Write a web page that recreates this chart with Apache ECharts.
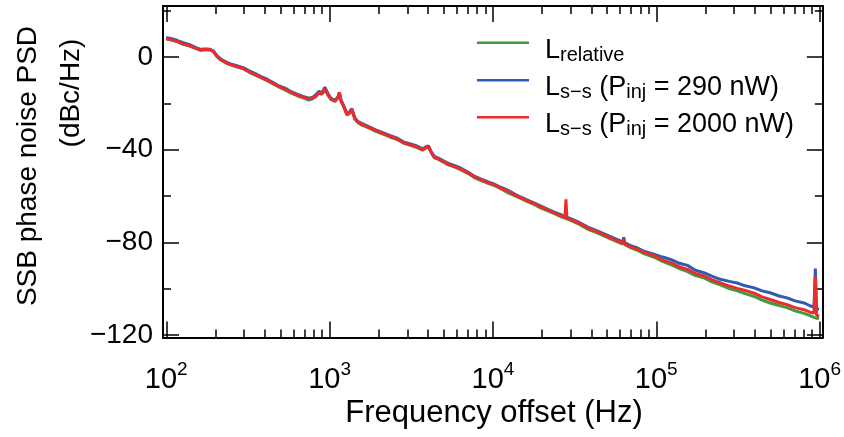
<!DOCTYPE html>
<html>
<head>
<meta charset="utf-8">
<script src="https://cdn.jsdelivr.net/npm/echarts@6/dist/echarts.min.js"></script>
<style>
html,body{margin:0;padding:0;background:#fff;}
#chart{width:844px;height:437px;}
</style>
</head>
<body>
<div id="chart"></div>
<script>
// ---- data (frequency offset in Hz, SSB phase noise in dBc/Hz) ----
const freqHz = [100,108,117,127,139,151,162,174,186,194,
205,217,233,250,272,296,322,351,381,415,
451,491,534,581,632,688,748,791,825,861,
898,936,977,1019,1078,1125,1148,1173,1223,1275,
1312,1369,1427,1488,1574,1737,1916,2114,2333,2573,
2839,3132,3455,3706,3865,4030,4203,4383,4636,4975,
5338,5899,6418,7070,7684,8482,9355,10320,11240,12390,
13670,14880,16410,18100,19690,21720,23960,26080,27600,27990,
28380,30880,34050,38100,42050,46410,51200,56500,62350,63240,
64120,69710,76900,84900,97700,109400,122300,138600,155200,173700,
197200,220500,246700,279900,313100,350500,397800,444900,497800,565000,
632000,707000,803000,873000,924000,942000,957000,991000];

const lRelative = [7.8,7.3,6.5,5.5,4.7,3.7,2.9,3.1,3.0,2.3,
0.1,-1.4,-2.7,-3.5,-4.3,-5.1,-6.6,-7.8,-9.0,-10.2,
-11.6,-13.0,-14.2,-15.6,-16.7,-17.6,-18.6,-17.9,-17.0,-15.5,
-16.1,-13.9,-16.4,-18.3,-19.2,-17.7,-15.6,-19.0,-21.7,-25.0,
-24.6,-22.8,-26.9,-28.3,-29.4,-30.6,-32.1,-33.2,-34.5,-35.5,
-37.2,-38.1,-39.2,-40.2,-39.4,-38.8,-41.5,-43.5,-44.2,-45.4,
-46.5,-47.6,-48.8,-50.3,-52.0,-53.3,-54.5,-55.6,-56.9,-58.6,
-59.9,-61.1,-62.5,-63.8,-65.2,-66.4,-67.7,-68.9,-69.5,-69.6,
-70.0,-70.9,-72.3,-74.3,-75.4,-76.7,-78.1,-79.4,-80.7,-79.2,
-81.0,-82.3,-83.4,-84.9,-86.5,-88.2,-89.5,-91.3,-92.6,-94.3,
-95.4,-97.1,-98.3,-99.9,-100.9,-102.1,-103.3,-104.9,-106.1,-107.2,
-108.1,-109.5,-110.6,-111.6,-112.3,-112.5,-112.6,-113.0];

const lSs290 = [8.4,7.9,7.1,6.2,5.3,4.2,3.3,3.4,3.3,2.6,
0.5,-1.0,-2.2,-3.1,-3.8,-4.6,-6.0,-7.2,-8.5,-9.6,
-11.0,-12.5,-13.4,-15.0,-16.0,-17.0,-17.8,-17.3,-16.2,-14.8,
-15.5,-13.0,-15.8,-17.8,-18.7,-17.2,-15.3,-18.5,-21.1,-24.3,
-24.0,-22.3,-26.2,-27.8,-28.6,-30.0,-31.4,-32.6,-33.8,-34.9,
-36.6,-37.5,-38.5,-39.6,-38.8,-38.3,-41.0,-42.9,-43.6,-44.8,
-45.9,-47.0,-48.1,-49.7,-51.4,-52.7,-53.9,-55.0,-56.3,-57.5,
-59.2,-60.5,-61.8,-63.1,-64.3,-65.7,-67.0,-68.0,-68.8,-68.9,
-69.2,-70.2,-71.5,-73.4,-74.6,-75.9,-77.2,-78.5,-79.8,-77.8,
-80.1,-81.4,-82.4,-83.9,-85.2,-86.3,-87.3,-89.0,-89.9,-92.0,
-93.1,-94.6,-95.9,-96.8,-97.5,-98.7,-99.6,-100.9,-101.7,-103.1,
-103.9,-105.2,-106.1,-107.3,-107.9,-91.3,-108.4,-109.0];

const lSs2000 = [8.0,7.4,6.7,5.6,4.9,3.8,3.0,3.3,3.1,2.5,
0.3,-1.3,-2.5,-3.4,-4.1,-4.9,-6.4,-7.6,-8.8,-10.1,
-11.4,-12.8,-13.9,-15.3,-16.3,-17.3,-18.1,-17.6,-16.8,-15.3,
-15.9,-13.7,-16.2,-18.1,-19.0,-17.5,-15.3,-18.8,-21.4,-24.6,
-24.3,-22.5,-26.5,-28.1,-29.0,-30.4,-31.7,-33.0,-34.1,-35.3,
-36.9,-37.9,-38.8,-40.0,-39.1,-38.6,-41.3,-43.2,-43.9,-45.1,
-46.3,-47.4,-48.5,-50.1,-51.7,-53.0,-54.3,-55.3,-56.7,-57.8,
-59.6,-60.8,-62.2,-63.4,-64.7,-66.0,-67.4,-68.4,-69.1,-61.4,
-69.6,-70.5,-71.9,-73.8,-75.0,-76.3,-77.7,-79.0,-80.3,-78.6,
-80.6,-81.9,-83.0,-84.4,-85.8,-87.6,-88.7,-90.5,-91.6,-93.4,
-94.5,-96.2,-97.4,-98.8,-99.8,-100.7,-101.9,-103.5,-104.6,-105.9,
-106.8,-108.1,-109.0,-110.1,-110.5,-94.6,-111.2,-111.9];

const seriesNames = ['Lrelative', 'Lss290', 'Lss2000'];
const legendLabels = {
  Lrelative: '{m|L}{r|relative}',
  Lss290: '{m|L}{s|s\u2212s}{m| (P}{s|inj}{m| = 290 nW)}',
  Lss2000: '{m|L}{s|s\u2212s}{m| (P}{s|inj}{m| = 2000 nW)}'
};
const xDecades = [2, 3, 4, 5, 6];          // tick labels 10^n
const yMajorTicks = [0, -40, -80, -120];
const yMinorTicks = [20, -20, -60, -100];
const xLabel = 'Frequency offset (Hz)';
const yLabel1 = 'SSB phase noise PSD';
const yLabel2 = '(dBc/Hz)';

// ---- build ----
const FONT = 'Liberation Sans, Arial, sans-serif';
const xMinorTicks = [];
for (let n = 2; n < 6; n++) for (let k = 2; k <= 9; k++) xMinorTicks.push(Math.log10(k * Math.pow(10, n)));

function toPairs(vals) { return freqHz.map((f, i) => [Math.log10(f), vals[i]]); }

const chart = echarts.init(document.getElementById('chart'), null, {renderer: 'canvas'});
const lineOn = {show: true, onZero: false, lineStyle: {color: '#000', width: 2}};
const lineOff = {show: false, onZero: false};
const XMIN = 1.98, XMAX = 6.02, YMIN = -121, YMAX = 22;

function xAx(pos, major, labels) {
  return {
    type: 'value', position: pos, min: XMIN, max: XMAX,
    axisLine: major ? lineOn : lineOff,
    splitLine: {show: false},
    axisTick: {show: true, inside: true, length: major ? 16 : 8,
      lineStyle: {color: '#000', width: 1.5},
      customValues: major ? xDecades : xMinorTicks},
    axisLabel: labels ? {
      show: true, customValues: xDecades, margin: 23,
      formatter: v => '{b|10}{e|' + Math.round(v) + '}',
      rich: {
        b: {fontFamily: FONT, fontSize: 29, color: '#000', lineHeight: 38},
        e: {fontFamily: FONT, fontSize: 19, color: '#000', lineHeight: 10, verticalAlign: 'top'}
      }
    } : {show: false}
  };
}
function yAx(pos, major, labels) {
  return {
    type: 'value', position: pos, min: YMIN, max: YMAX,
    axisLine: major ? lineOn : lineOff,
    splitLine: {show: false},
    axisTick: {show: true, inside: true, length: major ? 16 : 8,
      lineStyle: {color: '#000', width: 1.5},
      customValues: major ? yMajorTicks : yMinorTicks},
    axisLabel: labels ? {
      show: true, customValues: yMajorTicks, margin: 10,
      fontFamily: FONT, fontSize: 28, color: '#000',
      formatter: v => (v < 0 ? '\u2212' + Math.abs(v) : String(v))
    } : {show: false}
  };
}

const colors = ['#3e9b41', '#2c5cb3', '#ee2b2b'];
const valueSets = [lRelative, lSs290, lSs2000];
const legendTops = [36.8, 74.2, 111.2];

const option = {
  animation: false,
  backgroundColor: '#fff',
  grid: {left: 163, right: 18, top: 6, bottom: 99.5, containLabel: false},
  xAxis: [xAx('bottom', true, true), xAx('bottom', false, false), xAx('top', true, false), xAx('top', false, false)],
  yAxis: [yAx('left', true, true), yAx('left', false, false), yAx('right', true, false), yAx('right', false, false)],
  legend: seriesNames.map((n, i) => ({
    data: [n], left: 477, top: legendTops[i], padding: 0, orient: 'vertical',
    icon: 'rect', itemWidth: 52, itemHeight: 2.5, selectedMode: false,
    formatter: name => legendLabels[name],
    textStyle: {
      padding: [15, 0, 0, 11],
      rich: {
        m: {fontFamily: FONT, fontSize: 27, color: '#000', lineHeight: 30},
        r: {fontFamily: FONT, fontSize: 20, color: '#000', lineHeight: 26, verticalAlign: 'bottom'},
        s: {fontFamily: FONT, fontSize: 20, color: '#000', lineHeight: 17, verticalAlign: 'bottom'}
      }
    }
  })),
  series: seriesNames.map((n, i) => ({
    name: n, type: 'line', xAxisIndex: 0, yAxisIndex: 0,
    data: toPairs(valueSets[i]), showSymbol: false, symbol: 'none',
    lineStyle: {color: colors[i], width: 3}, itemStyle: {color: colors[i]},
    z: 2 + i
  })),
  graphic: [
    {type: 'text', x: 494, y: 413, style: {text: xLabel, font: '31px ' + FONT, fill: '#000', align: 'center', verticalAlign: 'middle'}},
    {type: 'text', x: 28, y: 166, rotation: Math.PI / 2, style: {text: yLabel1, font: '28px ' + FONT, fill: '#000', align: 'center', verticalAlign: 'middle'}},
    {type: 'text', x: 71, y: 93, rotation: Math.PI / 2, style: {text: yLabel2, font: '28px ' + FONT, fill: '#000', align: 'center', verticalAlign: 'middle'}}
  ]
};
chart.setOption(option);
</script>
</body>
</html>
